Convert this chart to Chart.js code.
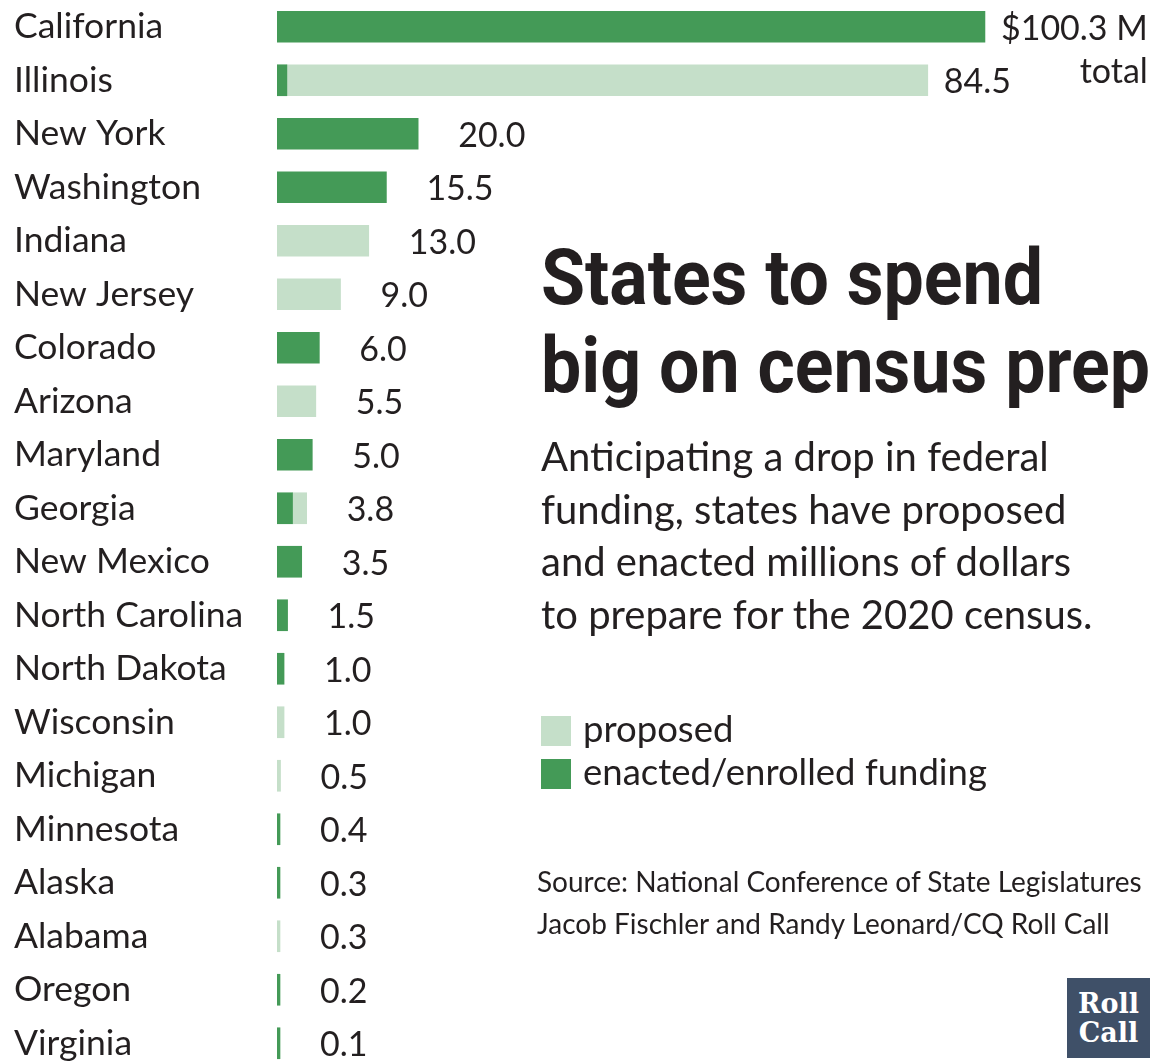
<!DOCTYPE html>
<html>
<head>
<meta charset="utf-8">
<script src="https://cdn.jsdelivr.net/npm/chart.js@4.4.1/dist/chart.umd.min.js"></script>
<style>
  html, body { margin: 0; padding: 0; background: #fff; overflow: hidden; }
  #wrap { position: relative; width: 1150px; height: 1064px; }
  #chart { position: absolute; left: 0; top: 0; }
  .txt { position: absolute; color: #231f20; font-family: Lato, "Open Sans", sans-serif; white-space: nowrap; }
  #title { left: 541px; top: 234px; font-family: Roboto, sans-serif; font-weight: bold; font-size: 77px; line-height: 88px; }
  #title span { display: block; transform-origin: 0 0; width: max-content; }
  #sub { left: 541px; top: 430px; font-size: 40px; line-height: 52.5px; }
  .leg { position: absolute; left: 541px; font-family: Lato, "Open Sans", sans-serif; font-size: 36.5px; color: #231f20; }
  .leg span.sw { position: absolute; left: 0; top: 0; width: 30px; height: 30px; }
  .leg span.lt { position: absolute; left: 42px; top: -10px; white-space: nowrap; }
  #src { left: 537px; top: 860px; font-size: 28px; line-height: 42px; }
  #logo { position: absolute; left: 1067px; top: 978px; width: 83px; height: 80px; background: #3f5068; color: #fff;
          font-family: "DejaVu Serif", serif; font-weight: bold; font-size: 27px; line-height: 29px; text-align: center; padding-top: 11px; box-sizing: border-box; }
</style>
</head>
<body>
<div id="wrap">
  <canvas id="chart" width="1150" height="1072"></canvas>
  <div id="title" class="txt"><span data-w="502">States to spend</span><span data-w="609">big on census prep</span></div>
  <div id="sub" class="txt">Anticipating a drop in federal<br>funding, states have proposed<br>and enacted millions of dollars<br>to prepare for the 2020 census.</div>
  <div class="leg" style="top:716px"><span class="sw" style="background:#c5dfc9"></span><span class="lt">proposed</span></div>
  <div class="leg" style="top:759px"><span class="sw" style="background:#449a57"></span><span class="lt">enacted/enrolled funding</span></div>
  <div id="src" class="txt">Source: National Conference of State Legislatures<br>Jacob Fischler and Randy Leonard/CQ Roll Call</div>
  <div id="logo">Roll<br>Call</div>
</div>
<script>
const states = ['California', 'Illinois', 'New York', 'Washington', 'Indiana', 'New Jersey', 'Colorado',
  'Arizona', 'Maryland', 'Georgia', 'New Mexico', 'North Carolina', 'North Dakota', 'Wisconsin',
  'Michigan', 'Minnesota', 'Alaska', 'Alabama', 'Oregon', 'Virginia'];

// bar lengths as drawn in the graphic ($ millions), null = no segment
const enacted = [100.3, 1.4, 20.0, 15.5, null, null, 6.0, null, 5.0, 2.2, 3.5, 1.5, 1.0, null, null, 0.4, 0.3, null, 0.2, 0.1];
const proposed = [null, 90.8, null, null, 13.0, 9.0, null, 5.5, null, 2.0, null, null, null, 1.0, 0.5, null, null, 0.3, null, null];

// printed totals
const totals = ['$100.3 M', '84.5', '20.0', '15.5', '13.0', '9.0', '6.0', '5.5', '5.0', '3.8', '3.5',
  '1.5', '1.0', '1.0', '0.5', '0.4', '0.3', '0.3', '0.2', '0.1'];

const DARK = '#449a57';
const LIGHT = '#c5dfc9';
const INK = '#231f20';

// squeeze the headline lines to the condensed width of the original
document.querySelectorAll('#title span').forEach(s => {
  const w = s.getBoundingClientRect().width;
  s.style.transform = 'scaleX(' + (s.dataset.w / w) + ')';
});

const valueLabels = {
  id: 'valueLabels',
  afterDatasetsDraw(chart) {
    const ctx = chart.ctx;
    ctx.save();
    ctx.fillStyle = INK;
    ctx.font = '34px Lato, "Open Sans", sans-serif';
    ctx.textBaseline = 'middle';
    ctx.textAlign = 'left';
    totals.forEach((t, i) => {
      let end = chart.chartArea.left, y = 0;
      chart.data.datasets.forEach((ds, d) => {
        const el = chart.getDatasetMeta(d).data[i];
        if (el && ds.data[i] != null) { end = Math.max(end, el.x); y = el.y; }
      });
      const gap = end > 900 ? 16 : 40;
      ctx.fillText(t, end + gap, y + 2);
      if (i === 0) {
        const w = ctx.measureText(t).width;
        ctx.textAlign = 'right';
        ctx.fillText('total', end + gap + w, y + 45);
        ctx.textAlign = 'left';
      }
    });
    ctx.restore();
  }
};

new Chart(document.getElementById('chart'), {
  type: 'bar',
  data: {
    labels: states,
    datasets: [
      { label: 'enacted/enrolled funding', data: enacted, backgroundColor: DARK, barThickness: 31, minBarLength: 3 },
      { label: 'proposed', data: proposed, backgroundColor: LIGHT, barThickness: 31, minBarLength: 3 }
    ]
  },
  options: {
    indexAxis: 'y',
    responsive: false,
    animation: false,
    layout: { padding: { left: 14, right: 26, top: 0, bottom: 2 } },
    plugins: { legend: { display: false }, tooltip: { enabled: false } },
    scales: {
      x: { stacked: true, min: 0, max: 120, display: false },
      y: {
        stacked: true,
        grid: { display: false },
        border: { display: false },
        afterFit(scale) { scale.width = 263; scale.paddingTop = 0; scale.paddingBottom = 0; },
        ticks: { crossAlign: 'far', color: INK, font: { family: 'Lato, "Open Sans", sans-serif', size: 35.5 } }
      }
    }
  },
  plugins: [valueLabels]
});
</script>
</body>
</html>
